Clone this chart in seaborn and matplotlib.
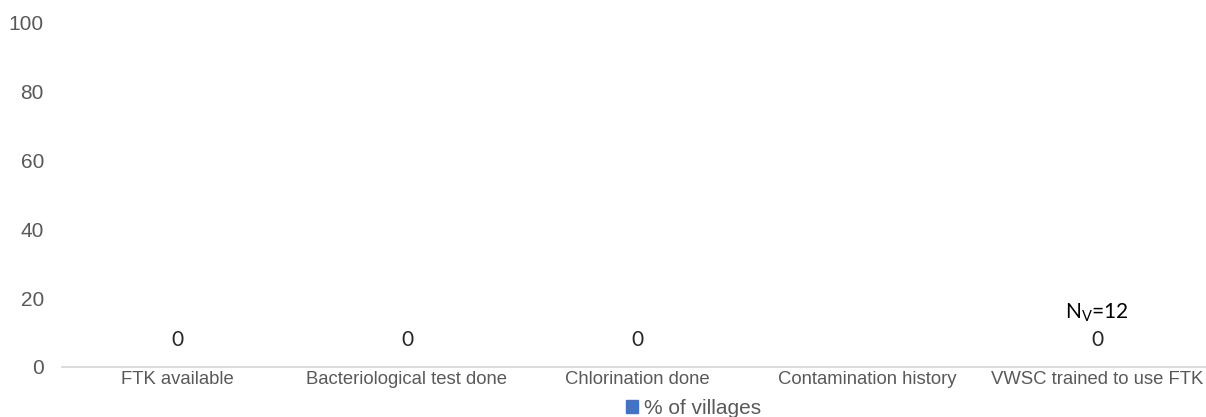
import numpy as np
import pandas as pd
import seaborn as sns
import matplotlib.pyplot as plt
from matplotlib.patches import Patch

categories = ['FTK available', 'Bacteriological test done', 'Chlorination done',
              'Contamination history', 'VWSC trained to use FTK']
values = [0, 0, 0, np.nan, 0]
point_labels = ['0', '0', '0', '', '0']
note = 'N$_\\mathregular{V}$=12'

df = pd.DataFrame({'item': categories, 'pct': values})

sns.set_style('white')
plt.rcParams['font.family'] = ['Liberation Sans', 'DejaVu Sans']

fig = plt.figure(figsize=(12.06, 4.17), dpi=100)
ax = fig.add_axes([62 / 1206, 0.12, 1150 / 1206, 0.825])

sns.barplot(data=df, x='item', y='pct', color='#4472C4', ax=ax, width=0.5)

ax.set_ylim(0, 100)
ax.set_yticks(range(0, 101, 20))
ax.set_xlim(-0.5, len(categories) - 0.5)
ax.set_xlabel('')
ax.set_ylabel('')
for s in ['top', 'right', 'left']:
    ax.spines[s].set_visible(False)
ax.spines['bottom'].set_color('#d9d9d9')
ax.spines['bottom'].set_linewidth(1.3)
ax.tick_params(axis='both', length=0, colors='#595959')
ax.tick_params(axis='y', pad=13, labelsize=15)
ax.tick_params(axis='x', pad=3, labelsize=13.3)

# data labels above each (empty) bar
for i, lab in enumerate(point_labels):
    ax.annotate(lab, (i, 0), xytext=(0, 12), textcoords='offset points',
                ha='center', va='bottom', fontsize=15, color='#262626',
                family=['Lato', 'DejaVu Sans'])

ax.text(4, 15.7, note, ha='center', va='center', fontsize=15, color='black',
        family=['Lato', 'DejaVu Sans'],
        bbox=dict(facecolor='white', edgecolor='none', pad=2))

fig.legend(handles=[Patch(color='#4472C4', label='% of villages')],
           loc='center', bbox_to_anchor=(0.575, 0.02), frameon=False,
           fontsize=15, handlelength=0.6, handleheight=0.6, handletextpad=0.3,
           labelcolor='#595959')

fig.savefig('out.png', dpi=100)
